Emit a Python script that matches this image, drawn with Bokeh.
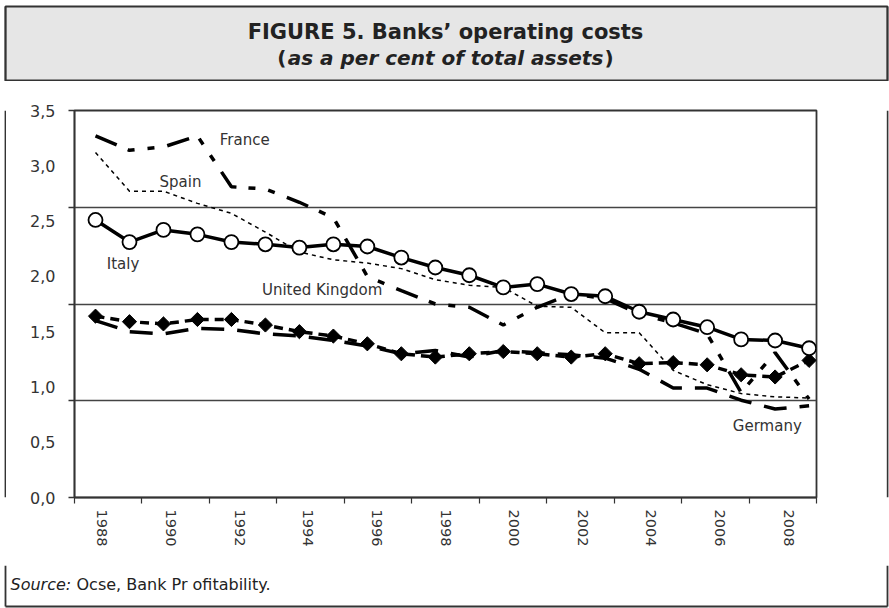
import numpy as np
from bokeh.plotting import figure
from bokeh.layouts import column, row
from bokeh.models import Range1d, FixedTicker, CustomJSTickFormatter, Label
from bokeh.core.properties import value
from bokeh.embed import file_html
from bokeh.resources import INLINE

# ---------------- data ----------------
years = list(range(1988, 2010))
france = [3.27, 3.14, 3.17, 3.27, 2.81, 2.79, 2.67, 2.53, 2.00, 1.87, 1.75,
          1.72, 1.56, 1.72, 1.84, 1.80, 1.66, 1.58, 1.48, 0.95, 1.31, 0.89]
spain = [3.12, 2.77, 2.77, 2.66, 2.57, 2.40, 2.22, 2.15, 2.12, 2.07, 1.97,
         1.92, 1.90, 1.73, 1.72, 1.49, 1.49, 1.15, 1.02, 0.94, 0.91, 0.90]
italy = [2.51, 2.31, 2.42, 2.38, 2.31, 2.29, 2.26, 2.29, 2.27, 2.17, 2.08,
         2.01, 1.90, 1.93, 1.84, 1.82, 1.68, 1.61, 1.54, 1.43, 1.42, 1.35]
uk = [1.64, 1.59, 1.57, 1.61, 1.61, 1.56, 1.50, 1.46, 1.39, 1.30, 1.27,
      1.30, 1.32, 1.30, 1.27, 1.30, 1.21, 1.22, 1.20, 1.11, 1.09, 1.24]
germany = [1.60, 1.50, 1.48, 1.53, 1.52, 1.48, 1.46, 1.42, 1.37, 1.30, 1.33,
           1.27, 1.33, 1.31, 1.29, 1.26, 1.16, 0.99, 0.99, 0.88, 0.80, 0.83]

tick_years = [1988, 1990, 1992, 1994, 1996, 1998, 2000, 2002, 2004, 2006, 2008]
y_ticks = [0.0, 0.5, 1.0, 1.5, 2.0, 2.5, 3.0, 3.5]
y_tick_labels = ["0,0", "0,5", "1,0", "1,5", "2,0", "2,5", "3,0", "3,5"]
grid_levels = [0.875, 1.75, 2.625]

series_names = ["France", "Spain", "Italy", "United Kingdom", "Germany"]

title_line1 = "FIGURE 5. Banks\u2019 operating costs"
title_line2 = "as a per cent of total assets"
source_lead = "Source:"
source_rest = "Ocse, Bank Pr ofitability."

# ---------------- style / layout constants ----------------
X0, X1 = 1987.382, 2009.218
FONT = "DejaVu Sans"
INK = "#222222"
FRAME = "#333333"
W = 889
HEAD_H = 81
MAIN_H = 484
FOOT_H = 43
BOX_L, BOX_R = 5, 887


def blank(width, height, xr, yr):
    f = figure(width=width, height=height, x_range=xr, y_range=yr,
               x_axis_type=None, y_axis_type=None,
               min_border=0, min_border_left=0, min_border_right=0,
               min_border_top=0, min_border_bottom=0,
               output_backend="svg", toolbar_location=None, tools="")
    f.outline_line_color = None
    f.background_fill_color = "white"
    f.border_fill_color = "white"
    f.xgrid.visible = False
    f.ygrid.visible = False
    return f


# ---------------- header (title band) ----------------
head = blank(W, HEAD_H, Range1d(0, W), Range1d(HEAD_H, 0))
head.quad(left=[BOX_L], right=[BOX_R], top=[6], bottom=[80],
          fill_color="#e6e6e6", line_color=FRAME, line_width=1.8)
head.segment(x0=[BOX_L, BOX_R], y0=[6, 6], x1=[BOX_L, BOX_R], y1=[HEAD_H, HEAD_H],
             line_color=FRAME, line_width=1.8)
CX = 445
head.text(x=[CX], y=[31], text=[title_line1], text_align="center",
          text_baseline="alphabetic", text_font=value(FONT),
          text_font_size=value("21px"), text_font_style="bold", text_color=INK)
head.text(x=[CX], y=[57], text=[title_line2], text_align="center",
          text_baseline="alphabetic", text_font=value(FONT),
          text_font_size=value("20px"), text_font_style="bold italic", text_color=INK)
half = 158
head.text(x=[CX - half - 1], y=[57], text=["("],
          text_align="right", text_baseline="alphabetic", text_font=value(FONT),
          text_font_size=value("20px"), text_font_style="bold", text_color=INK)
head.text(x=[CX + half + 1], y=[57], text=[")"],
          text_align="left", text_baseline="alphabetic", text_font=value(FONT),
          text_font_size=value("20px"), text_font_style="bold", text_color=INK)

# ---------------- side strips (outer frame) ----------------
left_strip = blank(6, MAIN_H, Range1d(0, 6), Range1d(0, 1))
left_strip.quad(left=[4.1], right=[5.9], top=[1], bottom=[0],
                fill_color=FRAME, line_color=None)
right_strip = blank(3, MAIN_H, Range1d(0, 3), Range1d(0, 1))
right_strip.quad(left=[0.1], right=[1.9], top=[1], bottom=[0],
                 fill_color=FRAME, line_color=None)

# ---------------- main chart ----------------
p = figure(width=880, height=MAIN_H, frame_width=742, frame_height=387,
           min_border_left=68, min_border_right=70,
           min_border_top=29, min_border_bottom=68,
           x_range=Range1d(X0, X1), y_range=Range1d(0, 3.5),
           output_backend="svg", toolbar_location=None, tools="")
p.background_fill_color = "white"
p.border_fill_color = "white"
p.outline_line_color = FRAME
p.outline_line_width = 1.8

xlab_pos = [y + 0.2 + 0.01 * (y - 1988) for y in tick_years]
x_minor = list(np.linspace(X0, X1, 12))
xa = p.xaxis[0]
xa.ticker = FixedTicker(ticks=xlab_pos, minor_ticks=x_minor)
xa.formatter = CustomJSTickFormatter(
    args=dict(pos=xlab_pos, labels=[str(y) for y in tick_years]),
    code="const i = pos.findIndex(v => Math.abs(v - tick) < 1e-6); return i >= 0 ? labels[i] : '';")
xa.major_label_orientation = "vertical"
xa.major_tick_line_color = None
xa.major_tick_out = 0
xa.major_tick_in = 0
xa.minor_tick_line_color = FRAME
xa.minor_tick_line_width = 1.2
xa.minor_tick_out = 6
xa.minor_tick_in = 0
xa.axis_line_color = FRAME
xa.axis_line_width = 1.5
xa.major_label_text_font = FONT
xa.major_label_text_font_size = "14.5px"
xa.major_label_text_color = "#333333"
xa.major_label_standoff = 6

ya = p.yaxis[0]
ya.ticker = FixedTicker(ticks=y_ticks, minor_ticks=[0.0] + grid_levels + [3.5])
ya.formatter = CustomJSTickFormatter(
    args=dict(pos=y_ticks, labels=y_tick_labels),
    code="const i = pos.findIndex(v => Math.abs(v - tick) < 1e-6); return i >= 0 ? labels[i] : '';")
ya.major_tick_line_color = None
ya.major_tick_out = 0
ya.major_tick_in = 0
ya.minor_tick_line_color = FRAME
ya.minor_tick_line_width = 1.5
ya.minor_tick_out = 6
ya.minor_tick_in = 0
ya.axis_line_color = FRAME
ya.axis_line_width = 1.5
ya.major_label_text_font = FONT
ya.major_label_text_font_size = "16px"
ya.major_label_text_color = "#333333"
ya.major_label_standoff = 13

p.xgrid.visible = False
p.ygrid.ticker = FixedTicker(ticks=grid_levels)
p.ygrid.grid_line_color = "#444444"
p.ygrid.grid_line_width = 1.5

p.line(years, france, line_color="black", line_width=3.5, line_dash="23 12 7 13 7 13")
p.line(years, spain, line_color="black", line_width=1.5, line_dash="4 4")
p.line(years, germany, line_color="black", line_width=3.5, line_dash="23 13")
p.line(years, uk, line_color="black", line_width=3.5, line_dash="9 6")
p.line(years, italy, line_color="black", line_width=3.5)
p.scatter(years, uk, marker="square", size=10, angle=np.pi / 4,
          fill_color="black", line_color="black")
p.scatter(years, italy, marker="circle", size=14, fill_color="white",
          line_color="black", line_width=1.8)

label_pos = {
    "France": (1992.39, 3.229),
    "Spain": (1990.50, 2.852),
    "Italy": (1988.81, 2.116),
    "United Kingdom": (1994.67, 1.881),
    "Germany": (2007.77, 0.651),
}
for name in series_names:
    lx, ly = label_pos[name]
    p.add_layout(Label(x=lx, y=ly, text=name, text_align="center",
                       text_baseline="alphabetic", text_font=FONT,
                       text_font_size="15px", text_color="#333333"))

# ---------------- footer (source + frame bottom) ----------------
FOOT_TOP = HEAD_H + MAIN_H
foot = blank(W, FOOT_H, Range1d(0, W), Range1d(FOOT_TOP + FOOT_H, FOOT_TOP))
foot.segment(x0=[BOX_L, BOX_R, BOX_L], y0=[FOOT_TOP, FOOT_TOP, 606],
             x1=[BOX_L, BOX_R, BOX_R], y1=[606, 606, 606],
             line_color=FRAME, line_width=1.8)
foot.text(x=[10], y=[584], text=[source_lead], text_align="left",
          text_baseline="alphabetic", text_font=value(FONT),
          text_font_size=value("16px"), text_font_style="italic", text_color=INK)
foot.text(x=[76], y=[584], text=[source_rest], text_align="left",
          text_baseline="alphabetic", text_font=value(FONT),
          text_font_size=value("16px"), text_color=INK)

layout = column(head, row(left_strip, p, right_strip), foot)
open("out.html", "w").write(file_html(layout, INLINE))
